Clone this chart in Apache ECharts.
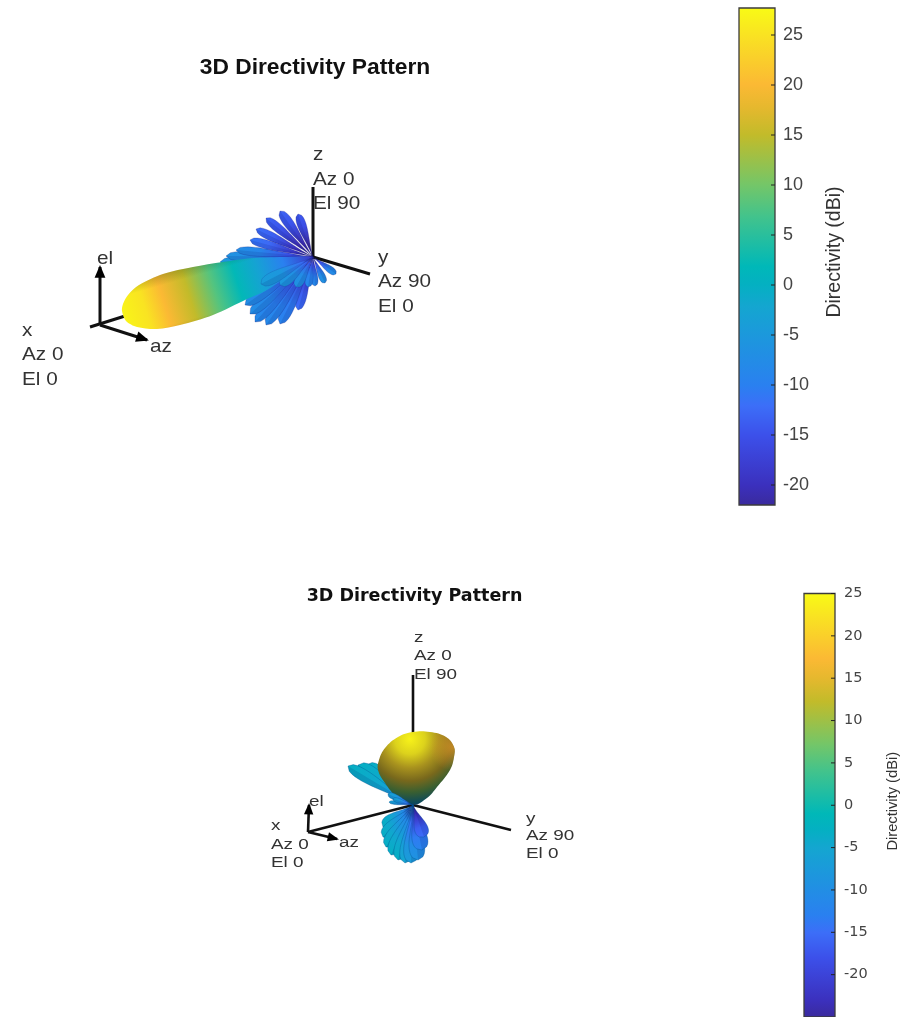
<!DOCTYPE html>
<html><head><meta charset="utf-8">
<style>html,body{margin:0;padding:0;background:#fff}#c{width:913px;height:1017px;filter:blur(0.55px)}</style>
<script src="https://cdn.jsdelivr.net/npm/echarts@6/dist/echarts.min.js"></script>
</head><body><div id="c"></div>
<script>
// ---- colour scale, as fractions of each colour bar's range
const cmapFractions = [0, .04, .141, .2, .241, .342, .4, .443, .48, .58, .644, .744, .80, .845, .945, 1];
const cmapColors = ['#3a2a9c','#3b30bd','#3c50ea','#3c6ef8','#2a80f0','#1c98dc','#14a6d0','#04b0c2','#00b8b8','#42c38c','#74c668','#c2bb2a','#e6b82e','#fbb934','#f9e322','#f9fb15'];

// ---- colour bars
const bar1Range = [-22, 27.7];
const bar2Range = [-25, 25];
const bar1Ticks = [-20,-15,-10,-5,0,5,10,15,20,25];
const bar2Ticks = [-20,-15,-10,-5,0,5,10,15,20,25];
const barName = 'Directivity (dBi)';
const titleText = '3D Directivity Pattern';

// ---- upper pattern: side lobes [tip x, tip y, half width, dBi]
const upperRearLobes = [
  [23,-17,3.5,-7],[12,-26,3.5,-6],[2,-29,3.5,-8],
  [-93,-5,5,-5],[-87,1,5,-6],[-77,7,4.5,-7],
  [-15,43,4.5,-14],[-33,46,5,-13],[-47,39,4.5,-13],[-57,28,4.5,-12],[-63,17,4.5,-11],
  [-15,-53,5,-12],[-33,-67,6,-9],[-47,-68,6,-8],[-58,-65,6,-8],[-63,-57,6,-7],[-68,-48,6,-7]
];
const upperFrontLobes = [
  [-5,-30,4,-8],[-17,-30,5,-6],[-33,-28,6,-5],[-52,-27,6,-4]
];
// main lobe outline and colour stations from the origin to the tip
const upperMainOutline = [[-191,-54],[-190,-47],[-185,-38],[-174,-28],[-150,-17],[-120,-10],[-90,-5],[-60,-1],[-25,0],[0,0],[-8,-7],[-46,-33],[-66,-42],[-100,-58],[-133,-68],[-156,-72],[-176,-70],[-187,-64]];
const upperStationFractions = [0,.15,.28,.4,.52,.65,.78,.88,1];
const upperStationDb = [-19,-10,-3,2,8,15,20,25,27];
const upperAxes = [[0,0,0,70,0],[0,0,57,-17,0],[0,0,-223,-70,0],[-213,-68,-213,-10,1],[-213,-68,-166,-83,1]];
const upperLabelText = ['x','Az 0','El 0','z','Az 0','El 90','y','Az 90','El 0','el','az'];
const upperLabelX = [-291,-291,-291,0,0,0,65,65,65,-216,-163];
const upperLabelY = [-72,-96,-121,104,79,55,1,-23,-48,0,-88];

// ---- lower pattern
const lowerRearLobes = [
  [-35,36,10,-3],[-40,38,10,-3],[-47,40,9,-3],[-55,40,8,-3],[-65,39,6,-3]
];
const lowerFrontLobes = [
  [-30,-22,7,-3],[-30,-32,7,-3],[-27,-42,7,-3],[-22,-50,7,-3],[-15,-55,7,-3],[-8,-58,7,-5],[-2,-58,8,-7],[5,-55,8,-9],[9,-45,8,-12],[11,-32,7,-15],
  [-25,11,3,-6],[-24,3,1.8,-6],[-20,6,2.4,-6]
];
const lowerMainOutline = [[0,0],[14,7],[24,18],[37,35],[41,48],[41,58],[33,68],[17,73],[0,73],[-15,68],[-28,57],[-34,45],[-35,35],[-28,22],[-16,8]];
const lowerAxes = [[0,0,0,130,0],[0,0,98,-25,0],[0,0,-105,-27,0],[-105,-27,-104,0,1],[-105,-27,-76,-34,1]];
const lowerLabelText = ['x','Az 0','El 0','z','Az 0','El 90','y','Az 90','El 0','el','az'];
const lowerLabelX = [-142,-142,-142,1,1,1,113,113,113,-104,-74];
const lowerLabelY = [-20,-39,-57,168,150,131,-13,-30,-48,4,-37];

function hexRgb(h){return [1,3,5].map(i=>parseInt(h.substr(i,2),16));}
function colorAt(f){
  f=Math.max(0,Math.min(1,f));
  let i=0; while(i<cmapFractions.length-2 && f>cmapFractions[i+1]) i++;
  const k=(f-cmapFractions[i])/(cmapFractions[i+1]-cmapFractions[i]);
  const a=hexRgb(cmapColors[i]),b=hexRgb(cmapColors[i+1]);
  return 'rgb('+a.map((v,j)=>Math.round(v+(b[j]-v)*k)).join(',')+')';
}
const colorOf=(db,r)=>colorAt((db-r[0])/(r[1]-r[0]));
const G=echarts.graphic;
const cssText='Liberation Sans, Arial, sans-serif';

function axesSeries(g,rows,lw){
  return {type:'custom',xAxisIndex:g,yAxisIndex:g,clip:false,silent:true,z:1,data:rows,
    encode:{x:0,y:1},
    renderItem(p,api){
      const a=api.coord([api.value(0),api.value(1)]),b=api.coord([api.value(2),api.value(3)]);
      const kids=[{type:'line',shape:{x1:a[0],y1:a[1],x2:b[0],y2:b[1]},style:{stroke:'#111',lineWidth:lw}}];
      if(api.value(4)){
        const L=Math.hypot(b[0]-a[0],b[1]-a[1]),ux=(b[0]-a[0])/L,uy=(b[1]-a[1])/L,s=lw*3.6;
        kids.push({type:'polygon',shape:{points:[[b[0]+ux*2,b[1]+uy*2],[b[0]-ux*s-uy*s*.5,b[1]-uy*s+ux*s*.5],[b[0]-ux*s+uy*s*.5,b[1]-uy*s-ux*s*.5]]},style:{fill:'#000'}});
      }
      return {type:'group',children:kids};
    }};
}
function lobeSeries(g,rows,range,z,edge,rootLen){
  return {type:'custom',xAxisIndex:g,yAxisIndex:g,clip:false,silent:true,z:z,data:rows,
    encode:{x:0,y:1},
    renderItem(p,api){
      const o=api.coord([0,0]),t=api.coord([api.value(0),api.value(1)]);
      const W=api.size([api.value(2),0])[0],db=api.value(3);
      const L=Math.hypot(t[0]-o[0],t[1]-o[1]),ux=(t[0]-o[0])/L,uy=(t[1]-o[1])/L;
      const side=[],other=[],n=20;
      for(let i=0;i<=n;i++){
        const k=i/n,f=Math.pow(k,1.7)*Math.sqrt(1-k)/.315;
        const cx=o[0]+ux*L*k,cy=o[1]+uy*L*k;
        side.push([cx-uy*W*f,cy+ux*W*f]);
        other.push([cx+uy*W*f,cy-ux*W*f]);
      }
      const fill=new G.LinearGradient(o[0],o[1],t[0],t[1],[
        {offset:0,color:'#241c7a'},{offset:rootLen,color:colorOf(db-8,range)},
        {offset:Math.min(.85,rootLen+.4),color:colorOf(db-1.5,range)},{offset:1,color:colorOf(db,range)}],true);
      return {type:'group',children:[
        {type:'polygon',shape:{points:side.concat(other.slice().reverse())},style:{fill:fill,stroke:edge,lineWidth:.6}},
        {type:'polygon',shape:{points:other.concat([[t[0],t[1]]])},style:{fill:'rgba(10,10,90,0.12)'}}
      ]};
    }};
}
function upperMain(g,range){
  return {type:'custom',xAxisIndex:g,yAxisIndex:g,clip:false,silent:true,z:4,data:[[0,0]],encode:{x:0,y:1},
    renderItem(p,api){
      const pts=upperMainOutline.map(q=>api.coord(q));
      const o=api.coord([0,0]),t=api.coord([-190,-60]);
      const fill=new G.LinearGradient(o[0],o[1],t[0],t[1],upperStationFractions.map((f,i)=>({offset:f,color:colorOf(upperStationDb[i],range)})),true);
      const a=api.coord([-125,-5]),b=api.coord([-106,-72]);
      const shade=new G.LinearGradient(a[0],a[1],b[0],b[1],[
        {offset:0,color:'rgba(30,50,0,0.3)'},{offset:.22,color:'rgba(30,50,0,0)'},
        {offset:.8,color:'rgba(70,40,0,0)'},{offset:1,color:'rgba(70,40,0,0.28)'}],true);
      return {type:'group',children:[
        {type:'polygon',shape:{points:pts,smooth:.3},style:{fill:fill}},
        {type:'polygon',shape:{points:pts,smooth:.3},style:{fill:shade}}
      ]};
    }};
}
function lowerMain(g){
  return {type:'custom',xAxisIndex:g,yAxisIndex:g,clip:false,silent:true,z:4,data:[[0,0]],encode:{x:0,y:1},
    renderItem(p,api){
      const pts=lowerMainOutline.map(q=>api.coord(q));
      const c=api.coord([-3,66]),s=api.size([1,0])[0];
      const fill=new G.RadialGradient(c[0],c[1],76*s,[
        {offset:0,color:'#f7f21a'},{offset:.2,color:'#dcd21c'},{offset:.38,color:'#a8921e'},
        {offset:.55,color:'#78681c'},{offset:.7,color:'#3a5f30'},{offset:.84,color:'#0d4a5a'},{offset:1,color:'#241f7c'}],true);
      const r=api.coord([40,58]);
      const rim=new G.RadialGradient(r[0],r[1],24*s,[
        {offset:0,color:'rgba(225,150,40,0.7)'},{offset:1,color:'rgba(225,150,40,0)'}],true);
      return {type:'group',children:[
        {type:'polygon',shape:{points:pts,smooth:.4},style:{fill:fill}},
        {type:'polygon',shape:{points:pts,smooth:.4},style:{fill:rim}}
      ]};
    }};
}
function labelSeries(g,text,xs,ys,size,stretch){
  return {type:'custom',xAxisIndex:g,yAxisIndex:g,clip:false,silent:true,z:8,
    data:xs.map((x,i)=>[x,ys[i]]),encode:{x:0,y:1},
    renderItem(p,api){
      const c=api.coord([api.value(0),api.value(1)]);
      return {type:'text',x:c[0],y:c[1]+1.5,scaleX:stretch,scaleY:1,
        style:{x:0,y:0,text:text[p.dataIndex],fill:'#333',font:size+'px '+cssText,align:'left',verticalAlign:'middle'}};
    }};
}
function barSeries(g,range){
  return {type:'custom',xAxisIndex:g,yAxisIndex:g,clip:false,silent:true,z:3,data:[[0,range[0],1,range[1]]],
    encode:{x:[0,2],y:[1,3]},
    renderItem(p,api){
      const a=api.coord([api.value(0),api.value(1)]),b=api.coord([api.value(2),api.value(3)]);
      return {type:'rect',shape:{x:a[0],y:b[1],width:b[0]-a[0],height:a[1]-b[1]},
        style:{fill:new G.LinearGradient(0,1,0,0,cmapFractions.map((f,i)=>({offset:f,color:cmapColors[i]}))),stroke:'#3c3c3c',lineWidth:1.3}};
    }};
}
function barTickSeries(g,ticks,px){
  return {type:'custom',xAxisIndex:g,yAxisIndex:g,clip:false,silent:true,z:4,data:ticks.map(v=>[1,v]),
    encode:{x:0,y:1},
    renderItem(p,api){
      const a=api.coord([1,api.value(1)]);
      return {type:'line',shape:{x1:a[0]-px,y1:a[1],x2:a[0],y2:a[1]},style:{stroke:'#222',lineWidth:1}};
    }};
}
function sceneAxis(min,max,g){return {type:'value',gridIndex:g,min:min,max:max,show:false};}
function barY(g,range,ticks,opt){
  return {type:'value',gridIndex:g,position:'right',min:range[0],max:range[1],z:6,
    axisLine:{show:false},splitLine:{show:false},axisTick:{show:false},
    axisLabel:{show:true,customValues:ticks,color:'#444',margin:opt.margin,fontSize:opt.size,fontFamily:opt.family},
    name:barName,nameLocation:'middle',nameRotate:90,nameGap:opt.gap,
    nameTextStyle:{color:'#333',fontSize:opt.nameSize,fontFamily:cssText,padding:opt.pad}};
}

const option={
  animation:false,backgroundColor:'#fff',
  title:[
    {text:titleText,left:315,top:68,padding:0,textAlign:'center',textVerticalAlign:'middle',textStyle:{fontFamily:cssText,fontWeight:'bold',fontSize:22.8,color:'#111'}},
    {text:titleText,left:414.5,top:596,padding:0,textAlign:'center',textVerticalAlign:'middle',textStyle:{fontFamily:'DejaVu Sans',fontWeight:'bold',fontSize:17.5,color:'#111'}}
  ],
  grid:[
    {left:0,top:120,width:700,height:300,show:false},
    {left:230,top:620,width:370,height:290,show:false},
    {left:739,top:8,width:36,height:497,show:false},
    {left:804,top:593.5,width:31,height:427,show:false}
  ],
  xAxis:[sceneAxis(-313,387,0),sceneAxis(-183,187,1),sceneAxis(0,1,2),sceneAxis(0,1,3)],
  yAxis:[sceneAxis(-163,137,0),sceneAxis(-105,185,1),
    barY(2,bar1Range,bar1Ticks,{margin:8,size:18,family:cssText,gap:50,nameSize:19.5,pad:[0,0,0,9]}),
    barY(3,bar2Range,bar2Ticks,{margin:9,size:14.5,family:'DejaVu Sans',gap:50,nameSize:14.7,pad:[0,0,0,8]})],
  series:[
    axesSeries(0,upperAxes,3),
    lobeSeries(0,upperRearLobes,bar1Range,3,'rgba(20,20,120,0.4)',.3),
    upperMain(0,bar1Range),
    lobeSeries(0,upperFrontLobes,bar1Range,5,'rgba(20,40,140,0.3)',.2),
    labelSeries(0,upperLabelText,upperLabelX,upperLabelY,18.5,1.12),
    axesSeries(1,lowerAxes,2.6),
    lobeSeries(1,lowerRearLobes,bar2Range,3,'rgba(0,80,140,0.55)',.12),
    lowerMain(1),
    lobeSeries(1,lowerFrontLobes,bar2Range,5,'rgba(0,80,140,0.55)',.3),
    labelSeries(1,lowerLabelText,lowerLabelX,lowerLabelY,14,1.35),
    barSeries(2,bar1Range),
    barSeries(3,bar2Range),
    barTickSeries(2,bar1Ticks,4),
    barTickSeries(3,bar2Ticks,4)
  ]
};
echarts.init(document.getElementById('c'),null,{renderer:'canvas'}).setOption(option);
</script></body></html>
